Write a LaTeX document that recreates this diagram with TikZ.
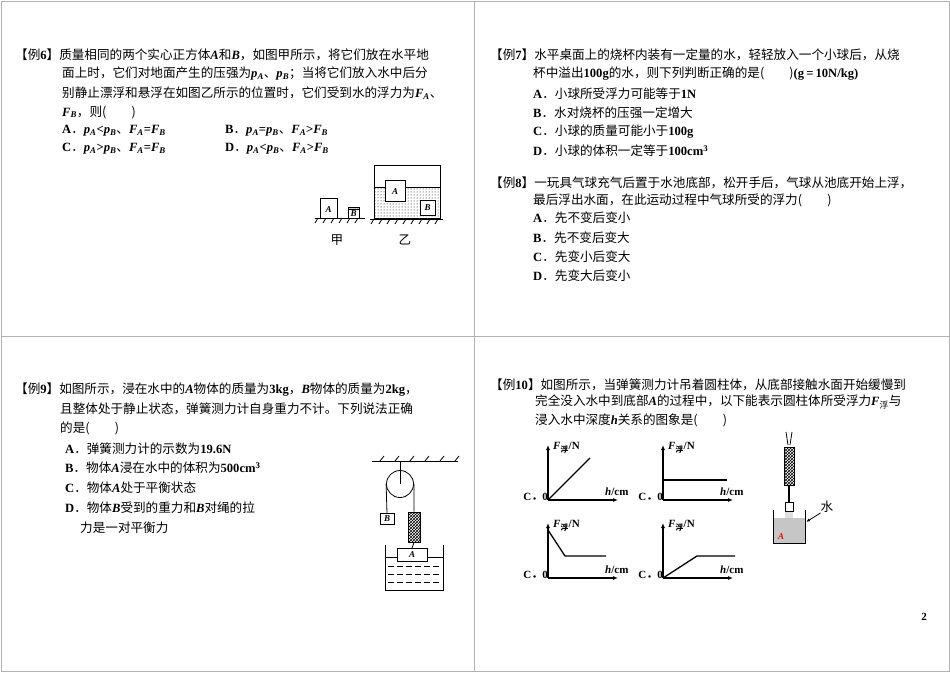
\documentclass[tikz,border=0pt]{standalone}
\usepackage{fontspec}
\setmainfont{Liberation Serif}
\newfontfamily\cjk{Noto Sans CJK SC}
\usetikzlibrary{arrows.meta,patterns}
\newcommand{\vb}[1]{{\rmfamily\bfseries\itshape #1}}
\newcommand{\nb}[1]{{\rmfamily\bfseries #1}}
\begin{document}
\begin{tikzpicture}[x=1pt,y=-1pt,
  txt/.style={anchor=west,inner sep=0pt,font=\cjk\fontsize{12.6}{14}\selectfont},
  lab/.style={inner sep=0pt,font=\rmfamily\bfseries\fontsize{11}{13}\selectfont},
  ax/.style={line width=1.3pt,-{Latex[length=5pt,width=4pt]}},
  crv/.style={line width=1.3pt},
  thin/.style={line width=0.8pt}]
\useasboundingbox (0,0) rectangle (950,672);
\draw[gray!60,line width=1pt] (1,1) rectangle (949,671);
\draw[gray!60,line width=1pt] (474,1) -- (474,671);
\draw[gray!60,line width=1pt] (1,336) -- (949,336);
% Ex6
\node[txt] (t61) at (15,55) {【例\nb{6}】质量相同的两个实心正方体\vb{A}和\vb{B}，如图甲所示，将它们放在水平地};
\node[txt] (t62) at (62,74) {面上时，它们对地面产生的压强为\vb{p\textsubscript{A}}、\vb{p\textsubscript{B}}；当将它们放入水中后分};
\node[txt] (t63) at (62,93) {别静止漂浮和悬浮在如图乙所示的位置时，它们受到水的浮力为\vb{F\textsubscript{A}}、};
\node[txt] (t64) at (62,112) {\vb{F\textsubscript{B}}，则(\qquad)};
\node[txt] (t65) at (62,131) {\nb{A}．\vb{p\textsubscript{A}}\nb{<}\vb{p\textsubscript{B}}、\vb{F\textsubscript{A}}\nb{=}\vb{F\textsubscript{B}}};
\node[txt] (t66) at (225,131) {\nb{B}．\vb{p\textsubscript{A}}\nb{=}\vb{p\textsubscript{B}}、\vb{F\textsubscript{A}}\nb{>}\vb{F\textsubscript{B}}};
\node[txt] (t67) at (62,149) {\nb{C}．\vb{p\textsubscript{A}}\nb{>}\vb{p\textsubscript{B}}、\vb{F\textsubscript{A}}\nb{=}\vb{F\textsubscript{B}}};
\node[txt] (t68) at (225,149) {\nb{D}．\vb{p\textsubscript{A}}\nb{<}\vb{p\textsubscript{B}}、\vb{F\textsubscript{A}}\nb{>}\vb{F\textsubscript{B}}};
% fig 6
\draw[thin] (315,218) -- (365,218);
\foreach \x in {318,326,...,362} \draw[thin] (\x,218) -- (\x-3,223);
\draw[thin] (320,198) rectangle (337,218);
\node[lab,font=\rmfamily\bfseries\itshape\small] (fa) at (328.5,210) {A};
\draw[thin,fill=gray!40] (348,207) rectangle (359,209);
\draw[thin] (348,209) rectangle (359,218);
\node[lab,font=\rmfamily\bfseries\itshape\small] (fb) at (353.5,214) {B};
\node[txt,anchor=center] (jia) at (337,240) {甲};
\draw[thin] (374,165) -- (374,218) -- (440,218) -- (440,165) -- cycle;
\draw[thin] (374,187) -- (440,187);
\fill[pattern=dots,pattern color=black] (375,188) rectangle (439,217);
\draw[thin,fill=white] (385,180) rectangle (405,201);
\node[lab,font=\rmfamily\bfseries\itshape\small] (wa) at (395,192) {A};
\draw[thin,fill=white] (420,200) rectangle (435,215);
\node[lab,font=\rmfamily\bfseries\itshape\small] (wb) at (427.5,208) {B};
\draw[thin] (370,219) -- (443,219);
\foreach \x in {374,382,...,442} \draw[thin] (\x,219) -- (\x-3,224);
\node[txt,anchor=center] (yi) at (405,240) {乙};
% Ex7
\node[txt] (t71) at (490,55) {【例\nb{7}】水平桌面上的烧杯内装有一定量的水，轻轻放入一个小球后，从烧};
\node[txt] (t72) at (533,74) {杯中溢出\nb{100g}的水，则下列判断正确的是(\qquad)\nb{(g\,=\,10N/kg)}};
\node[txt] (t73) at (533,94) {\nb{A}．小球所受浮力可能等于\nb{1N}};
\node[txt] (t74) at (533,113) {\nb{B}．水对烧杯的压强一定增大};
\node[txt] (t75) at (533,132) {\nb{C}．小球的质量可能小于\nb{100g}};
\node[txt] (t76) at (533,151) {\nb{D}．小球的体积一定等于\nb{100cm\textsuperscript{3}}};
% Ex8
\node[txt] (t81) at (490,183) {【例\nb{8}】一玩具气球充气后置于水池底部，松开手后，气球从池底开始上浮，};
\node[txt] (t82) at (533,200) {最后浮出水面，在此运动过程中气球所受的浮力(\qquad)};
\node[txt] (t83) at (533,218) {\nb{A}．先不变后变小};
\node[txt] (t84) at (533,238) {\nb{B}．先不变后变大};
\node[txt] (t85) at (533,257) {\nb{C}．先变小后变大};
\node[txt] (t86) at (533,276) {\nb{D}．先变大后变小};
% Ex9
\node[txt] (t91) at (15,390) {【例\nb{9}】如图所示，浸在水中的\vb{A}物体的质量为\nb{3kg}，\vb{B}物体的质量为\nb{2kg}，};
\node[txt] (t92) at (60,409) {且整体处于静止状态，弹簧测力计自身重力不计。下列说法正确};
\node[txt] (t93) at (60,428) {的是(\qquad)};
\node[txt] (t94) at (65,449) {\nb{A}．弹簧测力计的示数为\nb{19.6N}};
\node[txt] (t95) at (65,468) {\nb{B}．物体\vb{A}浸在水中的体积为\nb{500cm\textsuperscript{3}}};
\node[txt] (t96) at (65,488) {\nb{C}．物体\vb{A}处于平衡状态};
\node[txt] (t97) at (65,508) {\nb{D}．物体\vb{B}受到的重力和\vb{B}对绳的拉};
\node[txt] (t98) at (80,528) {力是一对平衡力};
% pulley fig
\draw[thin] (372,461) -- (458,461);
\foreach \x in {380,395,...,455} \draw[thin] (\x,461) -- (\x+4,456);
\node[circle,draw,line width=0.8pt,minimum size=27pt,inner sep=0pt] (pul) at (400,484) {};
\draw[thin] (400,461) -- (pul.center);
\node[draw,line width=0.8pt,minimum width=14pt,minimum height=11pt,inner sep=0pt,font=\rmfamily\bfseries\itshape\small] (bb) at (387,519) {B};
\draw[thin] (pul.west) -- (bb.north);
\node[draw,line width=0.8pt,minimum width=12pt,minimum height=30pt,inner sep=0pt,pattern=crosshatch] (sp) at (414,527) {};
\draw[thin] (pul.east) -- (sp.north);
\node[draw,line width=0.8pt,fill=white,minimum width=30pt,minimum height=13pt,inner sep=0pt,font=\rmfamily\bfseries\itshape\small] (ba) at (412,555) {A};
\draw[thin] (sp.south) -- (ba.north);
\draw[thin] (385,545) -- (385,590) -- (443,590) -- (443,545);
\draw[thin] (385,557) -- (397,557) (427,557) -- (443,557);
\foreach \y in {566,574,582} \draw[thin,dash pattern=on 6pt off 3pt] (388,\y) -- (441,\y);
% Ex10
\node[txt] (t101) at (490,385) {【例\nb{10}】如图所示，当弹簧测力计吊着圆柱体，从底部接触水面开始缓慢到};
\node[txt] (t102) at (535,402) {完全没入水中到底部\vb{A}的过程中，以下能表示圆柱体所受浮力\vb{F}\textsubscript{浮}与};
\node[txt] (t103) at (535,420) {浸入水中深度\vb{h}关系的图象是(\qquad)};
% graphs
\foreach \ox/\oy/\n in {548/500/g1,663/500/g2,548/578/g3,663/578/g4}{
  \coordinate (\n o) at (\ox,\oy);
  \coordinate (\n y) at (\ox,\oy-55);
  \coordinate (\n x) at (\ox+70,\oy);
  \draw[ax] (\n o) -- (\n y);
  \draw[ax] (\n o) -- (\n x);
  \node[lab,anchor=west] at (\ox+5,\oy-52) {\textit{F}\textsubscript{\cjk 浮}/N};
  \node[lab,anchor=west] at (\ox+57,\oy-8) {\textit{h}/cm};
  \node[lab,anchor=east] at (\ox,\oy-3) {C{\cjk ．}0};
}
\draw[crv] (g1o) -- (590,458);
\draw[crv] (663,480) -- (727,480);
\draw[crv] (548,530) -- (565,556) -- (606,556);
\draw[crv] (g4o) -- (697,556) -- (735,556);
% spring scale fig
\draw[thin] (786,432) -- (788,445) (792,432) -- (790,445);
\node[draw,line width=0.8pt,minimum width=10pt,minimum height=38pt,inner sep=0pt,pattern=crosshatch] (ss) at (789,466) {};
\node[draw,line width=0.8pt,fill=white,minimum width=8pt,minimum height=9pt,inner sep=0pt] (cyl) at (789,507) {};
\draw[line width=1.2pt] (ss.south) -- (cyl.north);
\fill[gray!45] (773,518) rectangle (805,543);
\draw[thin] (773,510) -- (773,543) -- (805,543) -- (805,510);
\fill[gray!25] (785,512) rectangle (793,518);
\node[inner sep=0pt,text=red,font=\rmfamily\bfseries\itshape\small] (ra) at (781,537) {A};
\node[txt,anchor=center] (shui) at (827,507) {水};
\draw[thin,-{Latex[length=4pt]}] (shui.south west) -- (806,522);
\node[lab] (pg) at (924,617) {2};
\end{tikzpicture}
\end{document}
